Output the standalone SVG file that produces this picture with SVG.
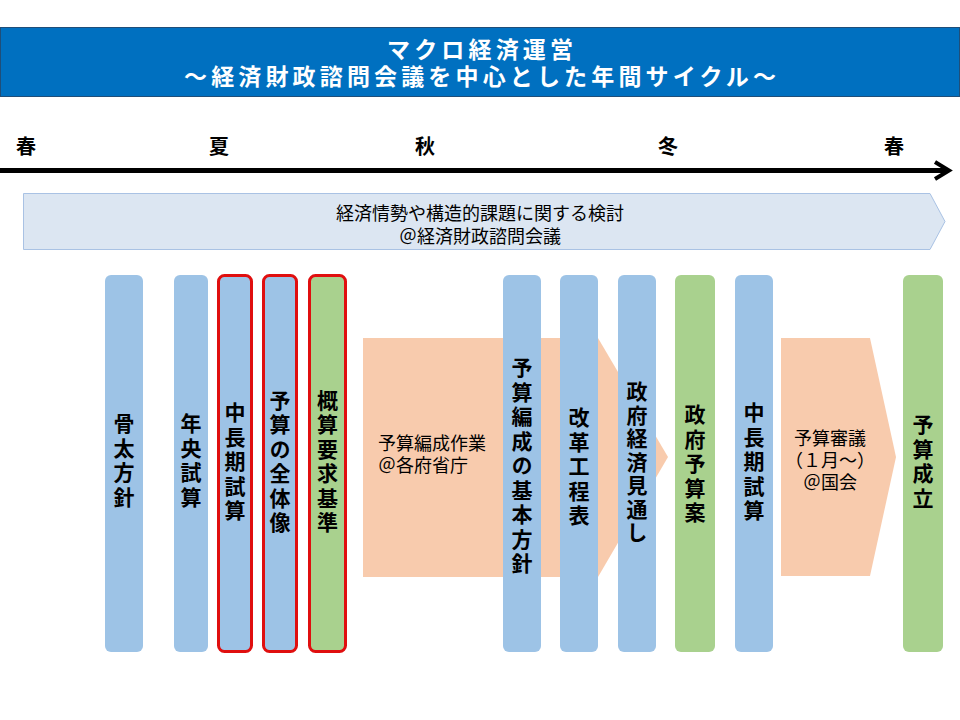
<svg xmlns="http://www.w3.org/2000/svg" width="960" height="720" viewBox="0 0 960 720">
<style>
text{font-family:"Noto Sans CJK JP","Noto Sans",sans-serif;fill:#000}
.title{font-size:23px;font-weight:bold;fill:#fff;text-anchor:middle}
.season{font-size:20px;font-weight:bold;text-anchor:middle}
.band{font-size:18px;text-anchor:middle}
.body{font-size:18px}
.bodyc{font-size:18px;text-anchor:middle}
.col{font-size:21px;font-weight:bold;text-anchor:middle;writing-mode:vertical-rl;letter-spacing:3.5px}
.blue{fill:#9DC3E6}
.green{fill:#A9D18E}
.red{stroke:#E00F0F;stroke-width:3}
.orange{fill:#F8CBAD}
</style>
<rect width="960" height="720" fill="#fff"/>
<g id="header">
<rect x="0.5" y="27.5" width="959" height="69" fill="#0070C0" stroke="#1F4E79" stroke-width="1"/>
<text class="title" x="480" y="57.5" textLength="186" lengthAdjust="spacing">マクロ経済運営</text>
<text class="title" x="480" y="85" textLength="592" lengthAdjust="spacing">～経済財政諮問会議を中心とした年間サイクル～</text>
</g>
<g id="seasons">
<text class="season" x="26" y="153.5">春</text>
<text class="season" x="219" y="153.5">夏</text>
<text class="season" x="425" y="153.5">秋</text>
<text class="season" x="668" y="153.5">冬</text>
<text class="season" x="894" y="153.5">春</text>
</g>
<g id="connectors">
<line x1="0" y1="170.5" x2="947" y2="170.5" stroke="#000" stroke-width="5"/>
<polyline points="935,162 949,170.5 935,179" fill="none" stroke="#000" stroke-width="4"/>
</g>
<g id="council-band">
<polygon points="23.5,193.5 930,193.5 945,221.5 930,249.5 23.5,249.5" fill="#DCE6F2" stroke="#A9C2E4" stroke-width="1"/>
<text class="band" x="480" y="220">経済情勢や構造的課題に関する検討</text>
<text class="band" x="480" y="243">＠経済財政諮問会議</text>
</g>
<g id="budget-work">
<polygon class="orange" points="363,338 598,338 668,457 598,577 363,577"/>
<text class="body" x="378" y="450">予算編成作業</text>
<text class="body" x="378" y="472">＠各府省庁</text>
</g>
<g id="honebuto">
<rect class="blue" x="105" y="275" width="38" height="377" rx="6"/>
<text class="col" x="124" y="462">骨太方針</text>
</g>
<g id="nenou">
<rect class="blue" x="174" y="275" width="34" height="377" rx="6"/>
<text class="col" x="191" y="462">年央試算</text>
</g>
<g id="chuchoki1">
<rect class="blue red" x="218.5" y="275.5" width="33" height="376" rx="6"/>
<text class="col" x="235" y="463">中長期試算</text>
</g>
<g id="zentaizo">
<rect class="blue red" x="263.5" y="275.5" width="33" height="376" rx="6"/>
<text class="col" x="280" y="463">予算の全体像</text>
</g>
<g id="gaisan">
<rect class="green red" x="309.5" y="275.5" width="36" height="376" rx="6"/>
<text class="col" x="327.5" y="463">概算要求基準</text>
</g>
<g id="kihonhoshin">
<rect class="blue" x="503" y="275" width="38" height="377" rx="6"/>
<text class="col" x="522" y="467">予算編成の基本方針</text>
</g>
<g id="kaikaku">
<rect class="blue" x="560" y="275" width="38" height="377" rx="6"/>
<text class="col" x="579" y="468">改革工程表</text>
</g>
<g id="mitoshi">
<rect class="blue" x="618" y="275" width="38" height="377" rx="6"/>
<text class="col" x="637" y="463" style="letter-spacing:2.5px">政府経済見通し</text>
</g>
<g id="yosanan">
<rect class="green" x="675" y="275" width="40" height="377" rx="6"/>
<text class="col" x="695" y="465">政府予算案</text>
</g>
<g id="chuchoki2">
<rect class="blue" x="735" y="275" width="38" height="377" rx="6"/>
<text class="col" x="754" y="463">中長期試算</text>
</g>
<g id="shingi">
<polygon class="orange" points="781,338 870,338 896,457 870,576 781,576"/>
<text class="bodyc" x="830" y="445">予算審議</text>
<text class="bodyc" x="830" y="467">（１月～）</text>
<text class="bodyc" x="830" y="489">＠国会</text>
</g>
<g id="seiritsu">
<rect class="green" x="903" y="275" width="40" height="377" rx="6"/>
<text class="col" x="923" y="463">予算成立</text>
</g>
</svg>
